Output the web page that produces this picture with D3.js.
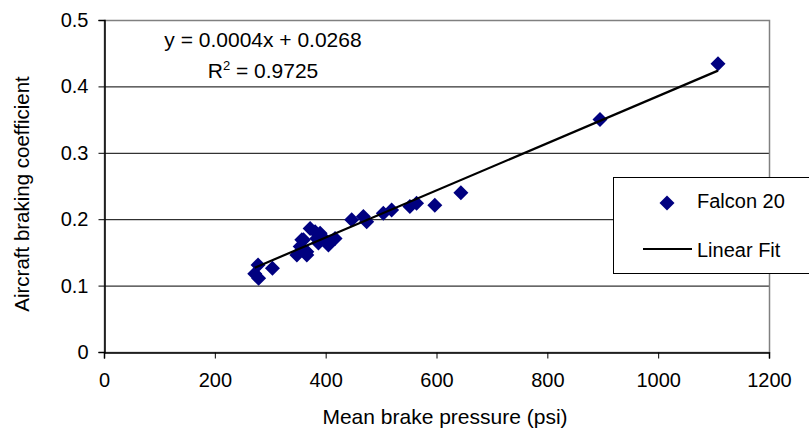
<!DOCTYPE html>
<html>
<head>
<meta charset="utf-8">
<script src="https://cdn.jsdelivr.net/npm/d3@7/dist/d3.min.js"></script>
<style>
  html, body { margin: 0; padding: 0; background: #fff; }
  svg { display: block; font-family: Arial, "Liberation Sans", sans-serif; }
</style>
</head>
<body>
<svg id="chart" width="809" height="429"></svg>
<script>
// ---- data ----
const pressure = [272, 278, 279, 304, 348, 354, 357, 360, 366, 366, 372, 381, 384, 387, 390, 399, 405, 417,
                  447, 468, 474, 504, 519, 552, 564, 597, 644, 895, 1108];
const braking  = [0.118, 0.131, 0.111, 0.126, 0.146, 0.159, 0.169, 0.169, 0.146, 0.151, 0.186, 0.181, 0.171, 0.164, 0.179, 0.169, 0.161, 0.171,
                  0.199, 0.204, 0.196, 0.209, 0.214, 0.219, 0.224, 0.221, 0.240, 0.350, 0.434];
const fitSlope = 0.000355;
const fitIntercept = 0.0304;
const xTicks = [0, 200, 400, 600, 800, 1000, 1200];
const yTicks = [0, 0.1, 0.2, 0.3, 0.4, 0.5];
const seriesName = "Falcon 20";
const fitName = "Linear Fit";
const equationText = "y = 0.0004x + 0.0268";
const r2Value = "0.9725";
const xTitle = "Mean brake pressure (psi)";
const yTitle = "Aircraft braking coefficient";

// ---- layout ----
const svg = d3.select("#chart");
const mLeft = 104, mRight = 769, mTop = 20, mBottom = 352;
const x = d3.scaleLinear().domain([0, 1200]).range([mLeft, mRight]);
const y = d3.scaleLinear().domain([0, 0.5]).range([mBottom, mTop]);
const navy = "#000080";
const fs = 20;

// gridlines
svg.append("g").selectAll("line").data(yTicks.filter(d => d > 0 && d < 0.5)).join("line")
  .attr("x1", mLeft).attr("x2", mRight)
  .attr("y1", d => y(d) + 0.5).attr("y2", d => y(d) + 0.5)
  .attr("stroke", "#000").attr("stroke-width", 1);

// plot border
svg.append("rect").attr("x", mLeft + 0.5).attr("y", mTop + 0.5)
  .attr("width", mRight - mLeft).attr("height", mBottom - mTop)
  .attr("fill", "none").attr("stroke", "#808080").attr("stroke-width", 1.5);

// axes
const yAxis = d3.axisLeft(y).tickValues(yTicks).tickFormat(d3.format("")).tickSize(6).tickPadding(10);
const gy = svg.append("g").attr("transform", `translate(${mLeft + 0.5},0)`).call(yAxis);
const xAxis = d3.axisBottom(x).tickValues(xTicks).tickFormat(d3.format("")).tickSize(6).tickPadding(14);
const gx = svg.append("g").attr("transform", `translate(0,${mBottom + 0.5})`).call(xAxis);
[gx, gy].forEach(g => {
  g.select(".domain").attr("stroke", "#000").attr("stroke-width", 1.5);
  g.selectAll(".tick line").attr("stroke", "#000");
  g.selectAll(".tick text").attr("font-size", fs).attr("fill", "#000")
    .attr("font-family", "Arial, 'Liberation Sans', sans-serif");
});

// diamonds
const diamond = (cx, cy, h) => `M${cx},${cy - h}L${cx + h},${cy}L${cx},${cy + h}L${cx - h},${cy}Z`;
svg.append("g").selectAll("path").data(pressure.map((p, i) => [p, braking[i]])).join("path")
  .attr("d", d => diamond(x(d[0]), y(d[1]), 7.5))
  .attr("fill", navy);

// fit line
const ext = d3.extent(pressure);
svg.append("line")
  .attr("x1", x(ext[0])).attr("y1", y(fitSlope * ext[0] + fitIntercept))
  .attr("x2", x(ext[1])).attr("y2", y(fitSlope * ext[1] + fitIntercept))
  .attr("stroke", "#000").attr("stroke-width", 2.2);

// equation
svg.append("text").attr("x", 263).attr("y", 47).attr("text-anchor", "middle")
  .attr("font-size", 21).text(equationText);
const r2 = svg.append("text").attr("x", 263).attr("y", 78).attr("text-anchor", "middle").attr("font-size", 21);
r2.append("tspan").text("R");
r2.append("tspan").attr("font-size", 13).attr("dy", -8).text("2");
r2.append("tspan").attr("dy", 8).text(" = " + r2Value);

// axis titles
svg.append("text").attr("x", 445).attr("y", 424).attr("text-anchor", "middle")
  .attr("font-size", 21).text(xTitle);
svg.append("text").attr("transform", `translate(29,194) rotate(-90)`)
  .attr("text-anchor", "middle").attr("font-size", 20.5).text(yTitle);

// legend
const lg = svg.append("g");
lg.append("rect").attr("x", 613.5).attr("y", 177.5).attr("width", 210).attr("height", 96)
  .attr("fill", "#fff").attr("stroke", "#000").attr("stroke-width", 1);
lg.append("path").attr("d", diamond(667, 203, 7.5)).attr("fill", navy);
lg.append("text").attr("x", 697).attr("y", 208).attr("font-size", fs).text(seriesName);
lg.append("line").attr("x1", 643).attr("x2", 692).attr("y1", 249).attr("y2", 249)
  .attr("stroke", "#000").attr("stroke-width", 2.2);
lg.append("text").attr("x", 697).attr("y", 257).attr("font-size", fs).text(fitName);
</script>
</body>
</html>
